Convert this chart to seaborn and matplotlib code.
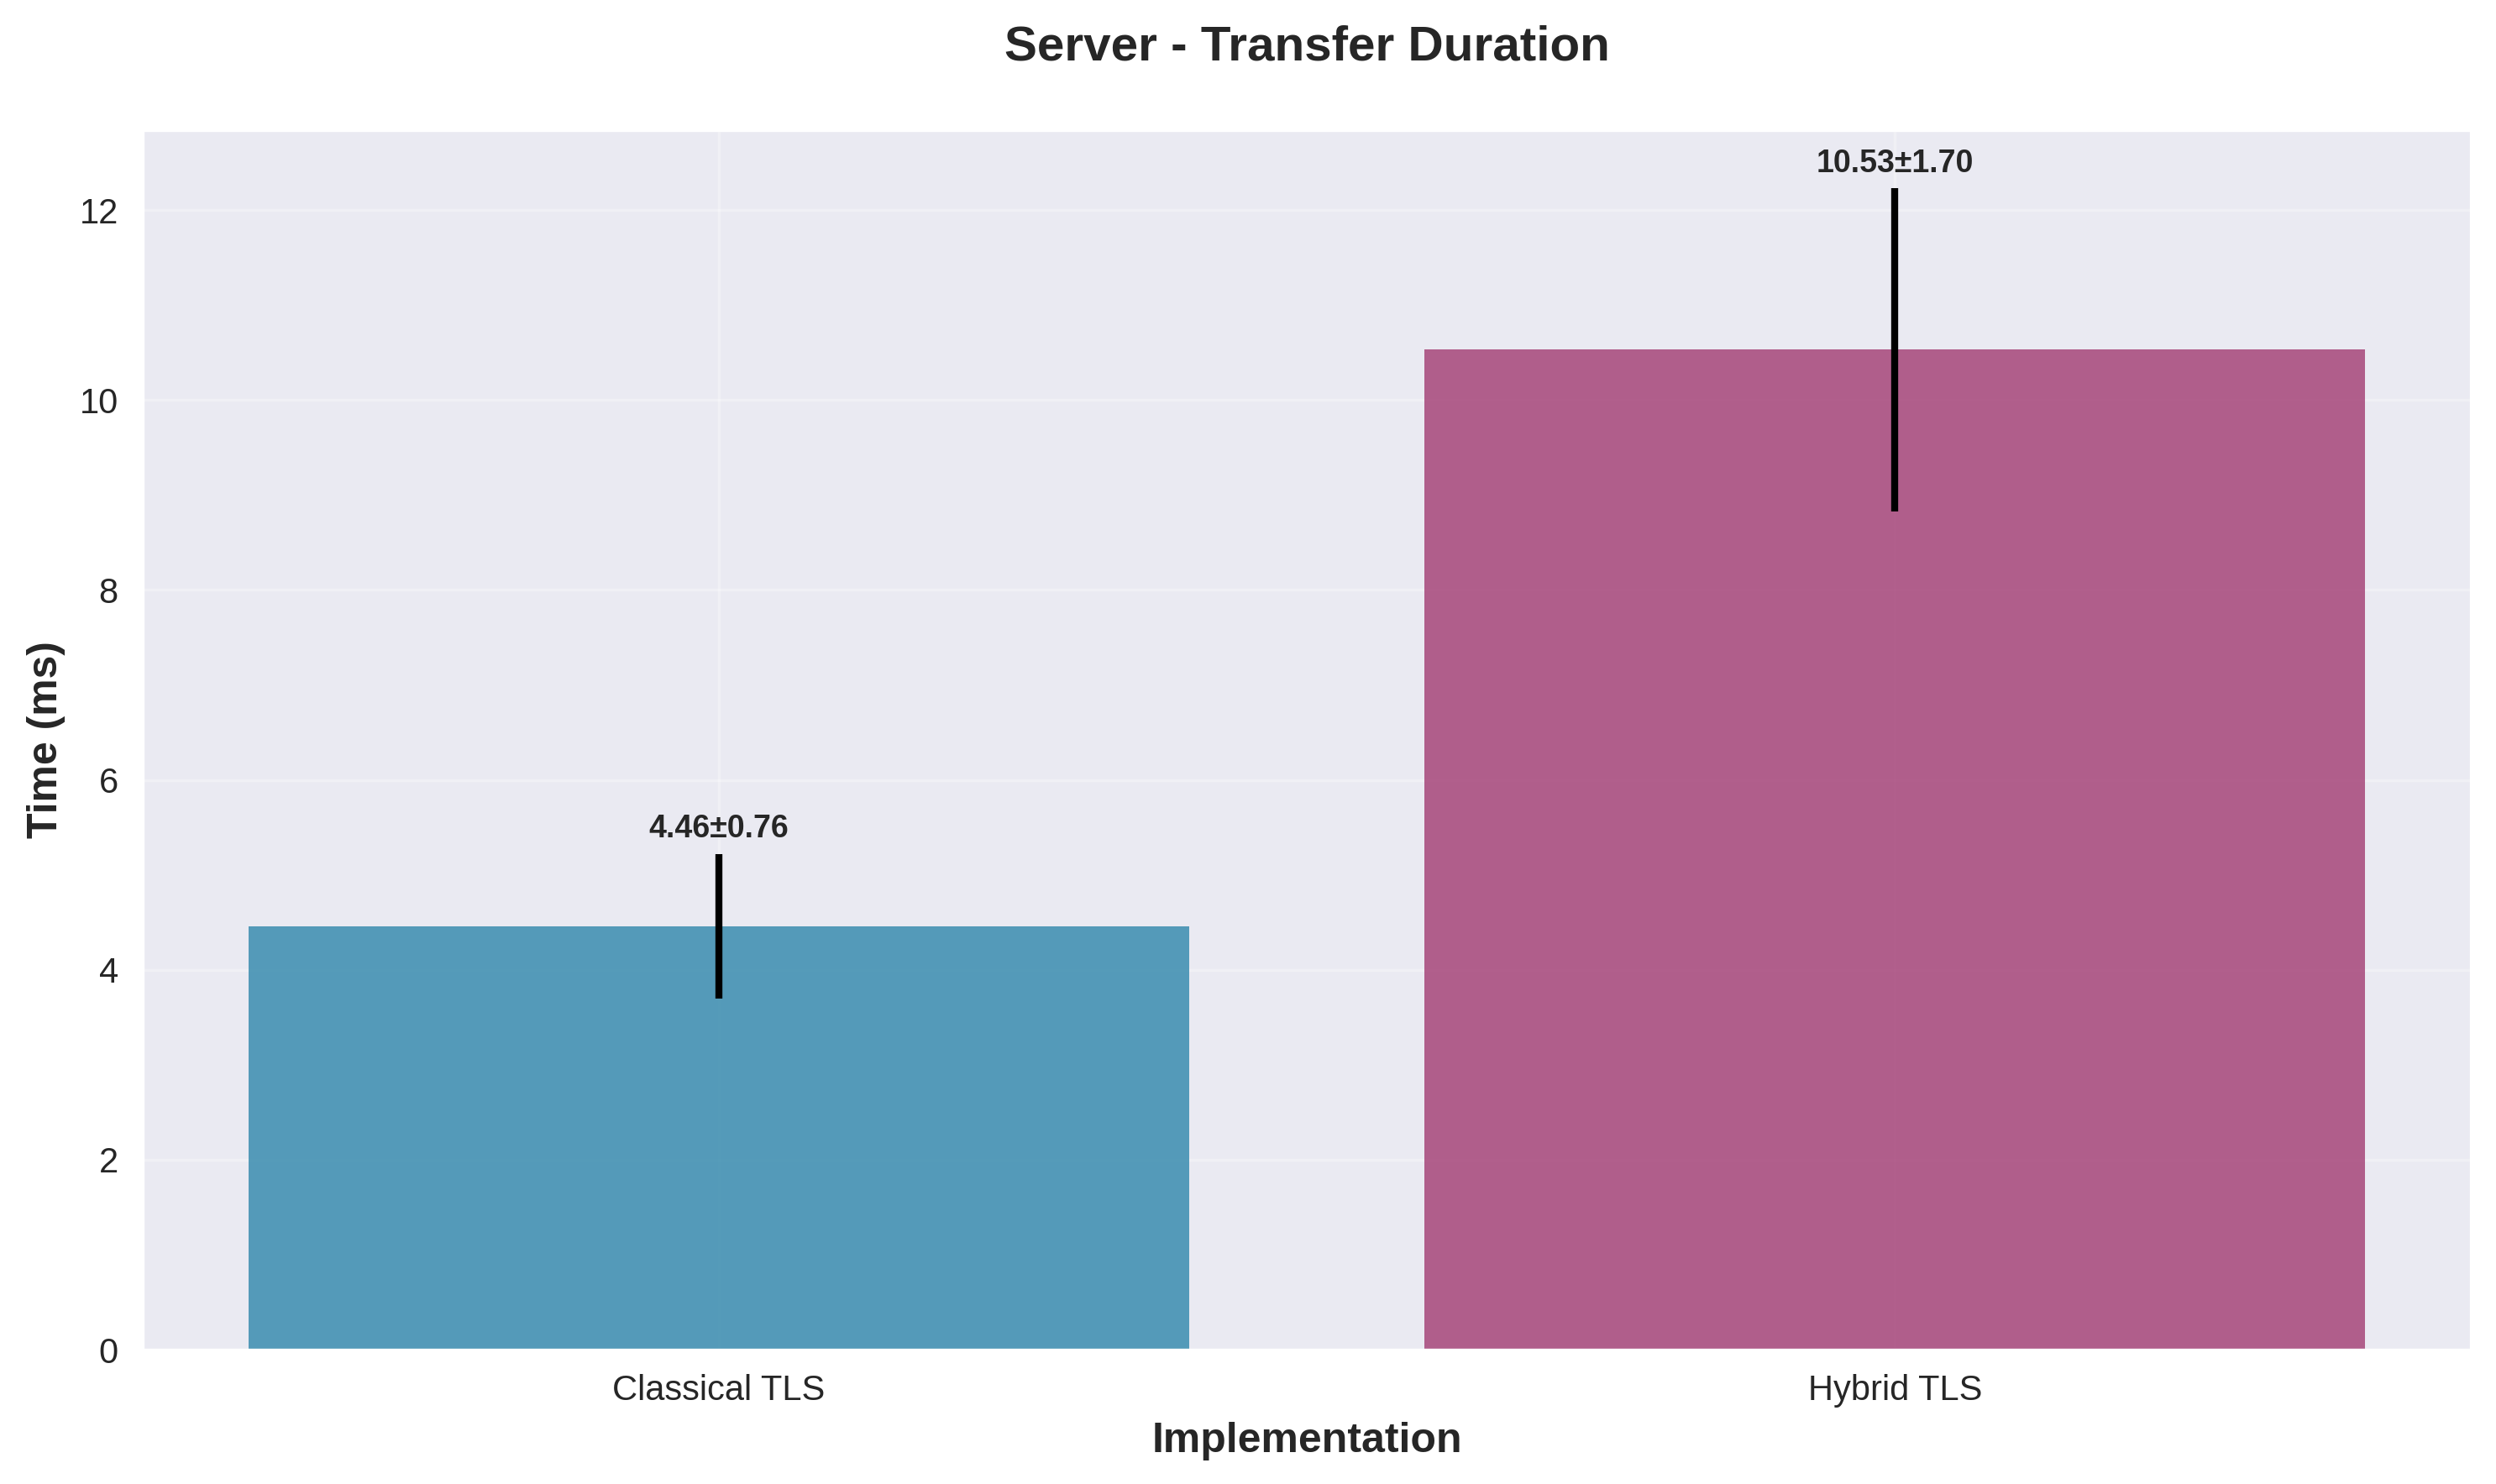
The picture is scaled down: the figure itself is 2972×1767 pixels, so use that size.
import numpy as np
import pandas as pd
import matplotlib
matplotlib.use("Agg")
import matplotlib.pyplot as plt
import seaborn as sns

# data
implementations = ["Classical TLS", "Hybrid TLS"]
mean_ms = [4.46, 10.53]
std_ms = [0.76, 1.70]
bar_colors = ["#2E86AB", "#A23B72"]

sns.set_style("darkgrid")
plt.rcParams['font.family'] = ['Liberation Sans', 'DejaVu Sans']

df = pd.DataFrame({"Implementation": implementations, "Time": mean_ms})

fig, ax = plt.subplots(figsize=(2972 / 300, 1767 / 300), dpi=300)
fig.subplots_adjust(left=0.0572, right=0.990, top=0.9123, bottom=0.0905)

sns.barplot(data=df, x="Implementation", y="Time", hue="Implementation",
            palette=bar_colors, alpha=0.8, width=0.8, saturation=1,
            linewidth=0, edgecolor="none", legend=False, ax=ax)

ax.errorbar(np.arange(len(mean_ms)), mean_ms, yerr=std_ms, fmt="none",
            ecolor="black", elinewidth=2, capsize=0)

for i, (m, s) in enumerate(zip(mean_ms, std_ms)):
    ax.text(i, m + s + 0.1, f"{m:.2f}±{s:.2f}", ha="center", va="bottom",
            fontsize=9, fontweight="bold")

ax.set_title("Server - Transfer Duration", fontsize=14, fontweight="bold", pad=20)
ax.set_xlabel("Implementation", fontsize=12, fontweight="bold")
ax.set_ylabel("Time (ms)", fontsize=12, fontweight="bold")
ax.tick_params(labelsize=10)
ax.grid(True, alpha=0.3)

fig.savefig("out.png", dpi=300)
